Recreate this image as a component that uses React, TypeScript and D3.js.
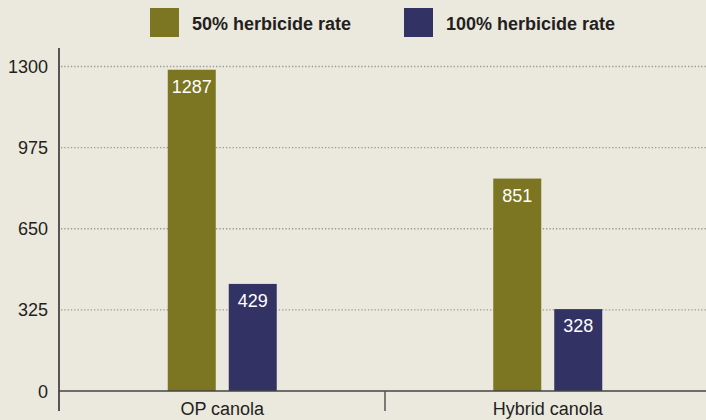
import React from "react";
import * as d3 from "d3";

const categories = ["OP canola", "Hybrid canola"];
const seriesNames = ["50% herbicide rate", "100% herbicide rate"];
const rate50 = [1287, 851];
const rate100 = [429, 328];
const yTicks = [0, 325, 650, 975, 1300];

const W = 706;
const H = 420;
const colors = ["#7c7522", "#323264"];
const FONT = "'Liberation Sans', Arial, Helvetica, sans-serif";

export default function App() {
  const y = d3.scaleLinear().domain([0, 1300]).range([391, 66.5]);
  const x0 = d3.scaleBand<string>().domain(categories).range([59.5, 710.5]).padding(0);
  const bw = x0.bandwidth();
  const x1 = d3
    .scaleBand<string>()
    .domain(seriesNames)
    .range([bw / 2 - 54.5, bw / 2 + 54.5])
    .paddingInner(0.2131)
    .paddingOuter(0);
  const series = [rate50, rate100];

  return (
    <svg
      width={W}
      height={H}
      style={{ position: "absolute", left: 0, top: 0, display: "block", background: "#ebe8de" }}
    >
      <rect x={0} y={0} width={W} height={H} fill="#ebe8de" />
      {/* legend */}
      {seriesNames.map((s, i) => {
        const lx = i === 0 ? 150 : 404;
        return (
          <g key={s}>
            <rect x={lx} y={8} width={29} height={29} fill={colors[i]} />
            <text
              x={lx + 42}
              y={29.5}
              fontFamily={FONT}
              fontWeight="bold"
              fontSize={18}
              fill="#231f20"
            >
              {s}
            </text>
          </g>
        );
      })}
      {/* gridlines */}
      {yTicks
        .filter((t) => t > 0)
        .map((t) => (
          <line
            key={t}
            x1={61}
            x2={W}
            y1={y(t)}
            y2={y(t)}
            stroke="#9a9890"
            strokeWidth={1.3}
            strokeDasharray="1.3,2"
          />
        ))}
      {/* y tick labels */}
      {yTicks.map((t) => (
        <text
          key={t}
          x={48}
          y={y(t) + 6.5}
          textAnchor="end"
          fontFamily={FONT}
          fontSize={18}
          fill="#231f20"
        >
          {t}
        </text>
      ))}
      {/* bars */}
      {categories.map((c, ci) => (
        <g key={c} transform={`translate(${x0(c)},0)`}>
          {seriesNames.map((s, si) => {
            const v = series[si][ci];
            const bx = x1(s)!;
            return (
              <g key={s}>
                <rect
                  x={bx}
                  y={y(v)}
                  width={x1.bandwidth()}
                  height={y(0) - y(v)}
                  fill={colors[si]}
                />
                <text
                  x={bx + x1.bandwidth() / 2}
                  y={y(v) + 23}
                  textAnchor="middle"
                  fontFamily={FONT}
                  fontSize={18}
                  fill="#ffffff"
                >
                  {v}
                </text>
              </g>
            );
          })}
        </g>
      ))}
      {/* axes */}
      <line x1={59} x2={59} y1={48} y2={411} stroke="#555" strokeWidth={2} />
      <line x1={59} x2={W} y1={391} y2={391} stroke="#444" strokeWidth={1.5} />
      <line x1={385} x2={385} y1={391} y2={411} stroke="#555" strokeWidth={1.5} />
      {categories.map((c) => (
        <text
          key={c}
          x={x0(c)! + bw / 2}
          y={415}
          textAnchor="middle"
          fontFamily={FONT}
          fontSize={18}
          fill="#231f20"
        >
          {c}
        </text>
      ))}
    </svg>
  );
}
